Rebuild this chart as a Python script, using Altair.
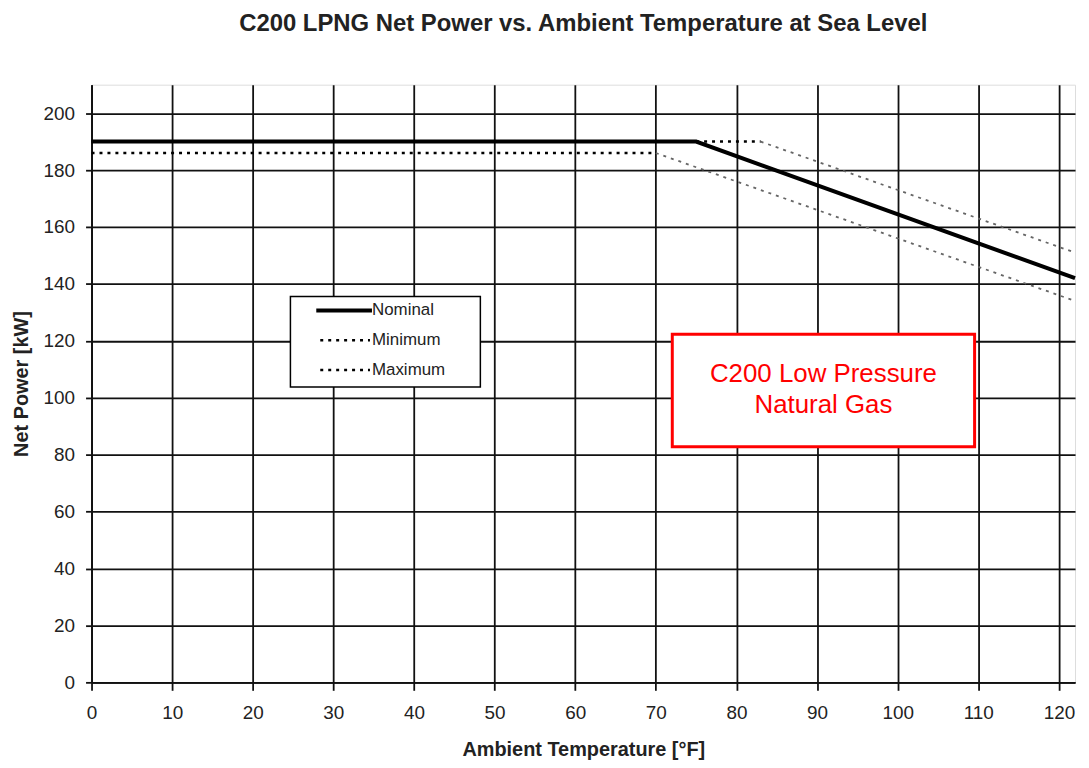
import altair as alt
import pandas as pd

# ---- data ----
nominal_x = [0, 75, 122]
nominal_y = [190, 190, 142]

max_x = [0, 83, 122]
max_y = [190, 190, 151]

min_x = [0, 70, 122]
min_y = [186, 186, 134]

x_ticks = list(range(0, 121, 10))
y_ticks = list(range(0, 201, 20))

legend_labels = ["Nominal", "Minimum", "Maximum"]
annotation_lines = ["C200 Low Pressure", "Natural Gas"]

FONT = "Liberation Sans"

nom_df = pd.DataFrame({"x": nominal_x, "y": nominal_y})

# dotted series split into flat part (black) and sloped part (grey)
rows = []
for name, xs, ys in [("Maximum", max_x, max_y), ("Minimum", min_x, min_y)]:
    for i in range(len(xs) - 1):
        seg = f"{name}-{i}"
        part = "flat" if ys[i] == ys[i + 1] else "slope"
        rows.append({"x": xs[i], "y": ys[i], "seg": seg, "part": part, "order": 0})
        rows.append({"x": xs[i + 1], "y": ys[i + 1], "seg": seg, "part": part, "order": 1})
dot_df = pd.DataFrame(rows)

xscale = alt.Scale(domain=[0, 122], nice=False, zero=False)
yscale = alt.Scale(domain=[0, 210], nice=False)

W, H = 989, 601

xaxis = alt.Axis(
    values=x_ticks, title="Ambient Temperature [°F]", grid=True,
    gridColor="#111", gridWidth=1.8, tickColor="#111", tickWidth=1.8, tickSize=8,
    domainColor="#111", domainWidth=1.8, labelFont=FONT, labelFontSize=19,
    labelColor="#222", labelPadding=13, labelFlush=False, titleFont=FONT, titleFontSize=20,
    titleFontWeight="bold", titleColor="#222", titleX=W / 2, titleY=68,
    titleBaseline="middle",
)
yaxis = alt.Axis(
    values=y_ticks, title="Net Power [kW]", grid=True,
    gridColor="#111", gridWidth=1.8, tickColor="#111", tickWidth=1.8, tickSize=6,
    domainColor="#111", domainWidth=1.8, labelFont=FONT, labelFontSize=19,
    labelColor="#222", labelPadding=11, labelFlush=False, titleFont=FONT, titleFontSize=20,
    titleFontWeight="bold", titleColor="#222", titleX=-70, titleY=H / 2,
    titleAngle=-90, titleAlign="center", titleBaseline="middle",
)

dotted = alt.Chart(dot_df).mark_line(strokeDash=[3, 5], strokeCap="butt").encode(
    x=alt.X("x:Q", scale=xscale, axis=xaxis),
    y=alt.Y("y:Q", scale=yscale, axis=yaxis),
    detail="seg:N", order="order:Q",
    color=alt.Color("part:N", scale=alt.Scale(domain=["flat", "slope"], range=["#000000", "#666666"]), legend=None),
    strokeWidth=alt.StrokeWidth("part:N", scale=alt.Scale(domain=["flat", "slope"], range=[2.5, 1.8]), legend=None),
)

nominal = alt.Chart(nom_df).mark_line(color="black", strokeWidth=4).encode(
    x=alt.X("x:Q", scale=xscale), y=alt.Y("y:Q", scale=yscale)
)

# ---- legend box (styling, pixel positions in plot area) ----
one = pd.DataFrame({"a": [0]})
leg_box = alt.Chart(one).mark_rect(fill="white", stroke="black", strokeWidth=1.5).encode(
    x=alt.value(200), x2=alt.value(391), y=alt.value(213), y2=alt.value(304)
)
leg_nom = alt.Chart(one).mark_rule(color="black", strokeWidth=4).encode(
    x=alt.value(226), x2=alt.value(282), y=alt.value(227)
)
leg_min = alt.Chart(one).mark_rule(color="black", strokeWidth=2.5, strokeDash=[3, 5]).encode(
    x=alt.value(230), x2=alt.value(280), y=alt.value(257)
)
leg_max = alt.Chart(one).mark_rule(color="black", strokeWidth=2.5, strokeDash=[3, 5]).encode(
    x=alt.value(230), x2=alt.value(280), y=alt.value(287)
)
leg_texts = [
    alt.Chart(one).mark_text(
        align="left", baseline="middle", font=FONT, fontSize=17, color="#222", text=lab
    ).encode(x=alt.value(282), y=alt.value(ypos))
    for lab, ypos in zip(legend_labels, [227, 257, 287])
]

# ---- red annotation box ----
ann_box = alt.Chart(one).mark_rect(fill="white", stroke="#ff0000", strokeWidth=3).encode(
    x=alt.value(584), x2=alt.value(888), y=alt.value(251), y2=alt.value(364)
)
ann_texts = [
    alt.Chart(one).mark_text(
        align="center", baseline="middle", font=FONT, fontSize=26, color="#ff0000", text=t
    ).encode(x=alt.value(736), y=alt.value(ypos))
    for t, ypos in zip(annotation_lines, [291, 322])
]

chart = alt.layer(
    dotted, nominal, leg_box, leg_nom, leg_min, leg_max, *leg_texts, ann_box, *ann_texts
).properties(
    width=W, height=H,
    autosize=alt.AutoSizeParams(type="none"),
    padding={"left": 84, "top": 75, "right": 6, "bottom": 82},
    title=alt.TitleParams(
        "C200 LPNG Net Power vs. Ambient Temperature at Sea Level",
        font=FONT, fontSize=24, fontWeight="bold", color="#222",
        anchor="middle", offset=49,
    ),
).configure_view(stroke="#111", strokeWidth=1.8).configure(background="white")

chart.save("out.html", embed_options={"renderer": "svg", "actions": False})
